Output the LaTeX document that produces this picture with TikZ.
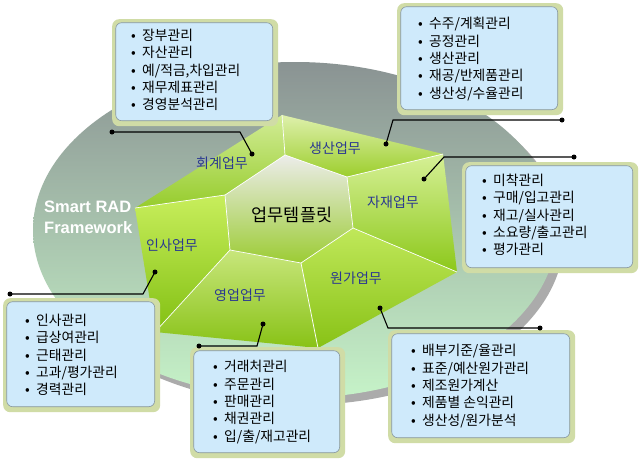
\documentclass[tikz,border=0pt]{standalone}
\usepackage{fontspec}
\setmainfont{Noto Sans CJK KR}
\newfontfamily\smartfont{Liberation Sans}
\definecolor{ellTop}{HTML}{8A9393}
\definecolor{ellMid}{HTML}{A8BCB0}
\definecolor{ellBot}{HTML}{C6F3C8}
\definecolor{shadowgray}{HTML}{ABABAB}
\definecolor{boxframe}{HTML}{D0DCA6}
\definecolor{boxfill}{HTML}{CFEAFB}
\definecolor{boxline}{HTML}{8797A0}
\definecolor{labblue}{HTML}{2B3990}
\newcommand\blt{\makebox[11pt][l]{•}}
\begin{document}
\begin{tikzpicture}[x=1pt,y=-1pt,
  obox/.style={rectangle, rounded corners=7pt, fill=boxframe, draw=none, inner sep=0pt, anchor=north west},
  ibox/.style={rectangle, rounded corners=6pt, fill=boxfill, draw=boxline, line width=0.6pt, inner sep=0pt},
  items/.style={anchor=west, inner sep=0pt, align=left, font=\fontsize{13.8}{17.3}\selectfont, text=black},
  seglabel/.style={font=\fontsize{14}{15}\selectfont, text=labblue, inner sep=0pt},
  leader/.style={draw=black, line width=1.1pt},
  dot/.style={circle, fill=black, inner sep=0pt, minimum size=5pt},
  sepline/.style={draw=white, line width=0.7pt}
]
\path[use as bounding box, fill=white] (0,0) rectangle (640,461);

% background ellipse
\fill[shadowgray] (302,237) ellipse [x radius=262pt, y radius=168pt];
\shade[top color=ellTop, middle color=ellMid, bottom color=ellBot] (295,230) ellipse [x radius=262pt, y radius=168pt];

% polygon coordinates
\coordinate (T) at (282,115);
\coordinate (UR) at (443,154);
\coordinate (R) at (457,272);
\coordinate (B) at (318,348);
\coordinate (BL) at (155,332);
\coordinate (L) at (135,208);
\coordinate (it) at (285,155);
\coordinate (iur) at (347,177);
\coordinate (ilr) at (353,228);
\coordinate (ib) at (301,263);
\coordinate (ill) at (230,250);
\coordinate (iul) at (225,195);

% segments
\shade[top color={rgb,255:red,210;green,236;blue,150}, bottom color={rgb,255:red,150;green,204;blue,44}] (L) -- (T) -- (it) -- (iul) -- cycle;
\shade[top color={rgb,255:red,222;green,240;blue,172}, bottom color={rgb,255:red,156;green,206;blue,44}] (T) -- (UR) -- (iur) -- (it) -- cycle;
\shade[top color={rgb,255:red,214;green,240;blue,150}, bottom color={rgb,255:red,140;green,200;blue,26}] (UR) -- (R) -- (ilr) -- (iur) -- cycle;
\shade[top color={rgb,255:red,192;green,232;blue,90}, bottom color={rgb,255:red,136;green,194;blue,22}] (R) -- (B) -- (ib) -- (ilr) -- cycle;
\shade[top color={rgb,255:red,200;green,230;blue,124}, bottom color={rgb,255:red,136;green,194;blue,22}] (B) -- (BL) -- (ill) -- (ib) -- cycle;
\shade[top color={rgb,255:red,200;green,238;blue,92}, bottom color={rgb,255:red,130;green,192;blue,18}] (BL) -- (L) -- (iul) -- (ill) -- cycle;
\draw[sepline] (T) -- (it) (UR) -- (iur) (R) -- (ilr) (B) -- (ib) (BL) -- (ill) (L) -- (iul);

% center hexagon
\shade[top color={rgb,255:red,236;green,236;blue,234}, bottom color={rgb,255:red,156;green,204;blue,52}, sepline] (it) -- (iur) -- (ilr) -- (ib) -- (ill) -- (iul) -- cycle;
\node[font=\fontsize{17.5}{19}\selectfont, inner sep=0pt] (center) at (292,215) {업무템플릿};

% segment labels
\node[seglabel] (lacc) at (222,163) {회계업무};
\node[seglabel] (lprod) at (335,148) {생산업무};
\node[seglabel] (lmat) at (393,202) {자재업무};
\node[seglabel] (lcost) at (356,278) {원가업무};
\node[seglabel] (lsales) at (240,295) {영업업무};
\node[seglabel] (lhr) at (172,245) {인사업무};

% Smart RAD Framework
\node[anchor=west, align=left, inner sep=0pt, text=white, font=\smartfont\bfseries\fontsize{16.5}{21}\selectfont] (smart) at (44,217) {Smart RAD\\Framework};

% boxes
\node[obox, minimum width=166pt, minimum height=107pt] (accO) at (112,19) {};
\node[ibox, minimum width=157pt, minimum height=98pt] (accI) at ([xshift=-1pt,yshift=1pt]accO.center) {};
\node[items] (accT) at (131,70) {\blt 장부관리\\\blt 자산관리\\\blt 예/적금,차입관리\\\blt 재무제표관리\\\blt 경영분석관리};

\node[obox, minimum width=166pt, minimum height=112pt] (prodO) at (397,3) {};
\node[ibox, minimum width=157pt, minimum height=103pt] (prodI) at ([xshift=-1pt,yshift=1pt]prodO.center) {};
\node[items] (prodT) at (418,59) {\blt 수주/계획관리\\\blt 공정관리\\\blt 생산관리\\\blt 재공/반제품관리\\\blt 생산성/수율관리};

\node[obox, minimum width=176pt, minimum height=111pt] (matO) at (462,162) {};
\node[ibox, minimum width=167pt, minimum height=102pt] (matI) at ([xshift=-1pt,yshift=1pt]matO.center) {};
\node[items] (matT) at (482,215) {\blt 미착관리\\\blt 구매/입고관리\\\blt 재고/실사관리\\\blt 소요량/출고관리\\\blt 평가관리};

\node[obox, minimum width=187pt, minimum height=113pt] (costO) at (388,330) {};
\node[ibox, minimum width=178pt, minimum height=104pt] (costI) at ([xshift=-1pt,yshift=1pt]costO.center) {};
\node[items] (costT) at (411,386) {\blt 배부기준/율관리\\\blt 표준/예산원가관리\\\blt 제조원가계산\\\blt 제품별 손익관리\\\blt 생산성/원가분석};

\node[obox, minimum width=155pt, minimum height=111pt] (salesO) at (190,347) {};
\node[ibox, minimum width=146pt, minimum height=102pt] (salesI) at ([xshift=-1pt,yshift=1pt]salesO.center) {};
\node[items] (salesT) at (213,402) {\blt 거래처관리\\\blt 주문관리\\\blt 판매관리\\\blt 채권관리\\\blt 입/출/재고관리};

\node[obox, minimum width=157pt, minimum height=114pt] (hrO) at (3,298) {};
\node[ibox, minimum width=148pt, minimum height=105pt] (hrI) at ([xshift=-1pt,yshift=1pt]hrO.center) {};
\node[items] (hrT) at (25,355) {\blt 인사관리\\\blt 급상여관리\\\blt 근태관리\\\blt 고과/평가관리\\\blt 경력관리};

% leaders
\node[dot] (accD) at (252,154) {};
\coordinate (accK) at (240,132);
\node[dot] (accE) at (112,132) {};
\draw[leader] (accD.center) -- (accK) -- (accE.center);

\node[dot] (prodD) at (386,144) {};
\coordinate (prodK) at (393,120);
\node[dot] (prodE) at (562,120) {};
\draw[leader] (prodD.center) -- (prodK) -- (prodE.center);

\node[dot] (matD) at (424,179) {};
\coordinate (matK) at (444,157);
\node[dot] (matE) at (574,157) {};
\draw[leader] (matD.center) -- (matK) -- (matE.center);

\node[dot] (costD) at (380,308) {};
\coordinate (costK) at (388,328);
\node[dot] (costE) at (540,328) {};
\draw[leader] (costD.center) -- (costK) -- (costE.center);

\node[dot] (salesD) at (263,324) {};
\coordinate (salesK) at (257,346);
\node[dot] (salesE) at (199,346) {};
\draw[leader] (salesD.center) -- (salesK) -- (salesE.center);

\node[dot] (hrD) at (155,272) {};
\coordinate (hrK) at (143,294);
\node[dot] (hrE) at (10,294) {};
\draw[leader] (hrD.center) -- (hrK) -- (hrE.center);
\end{tikzpicture}
\end{document}
